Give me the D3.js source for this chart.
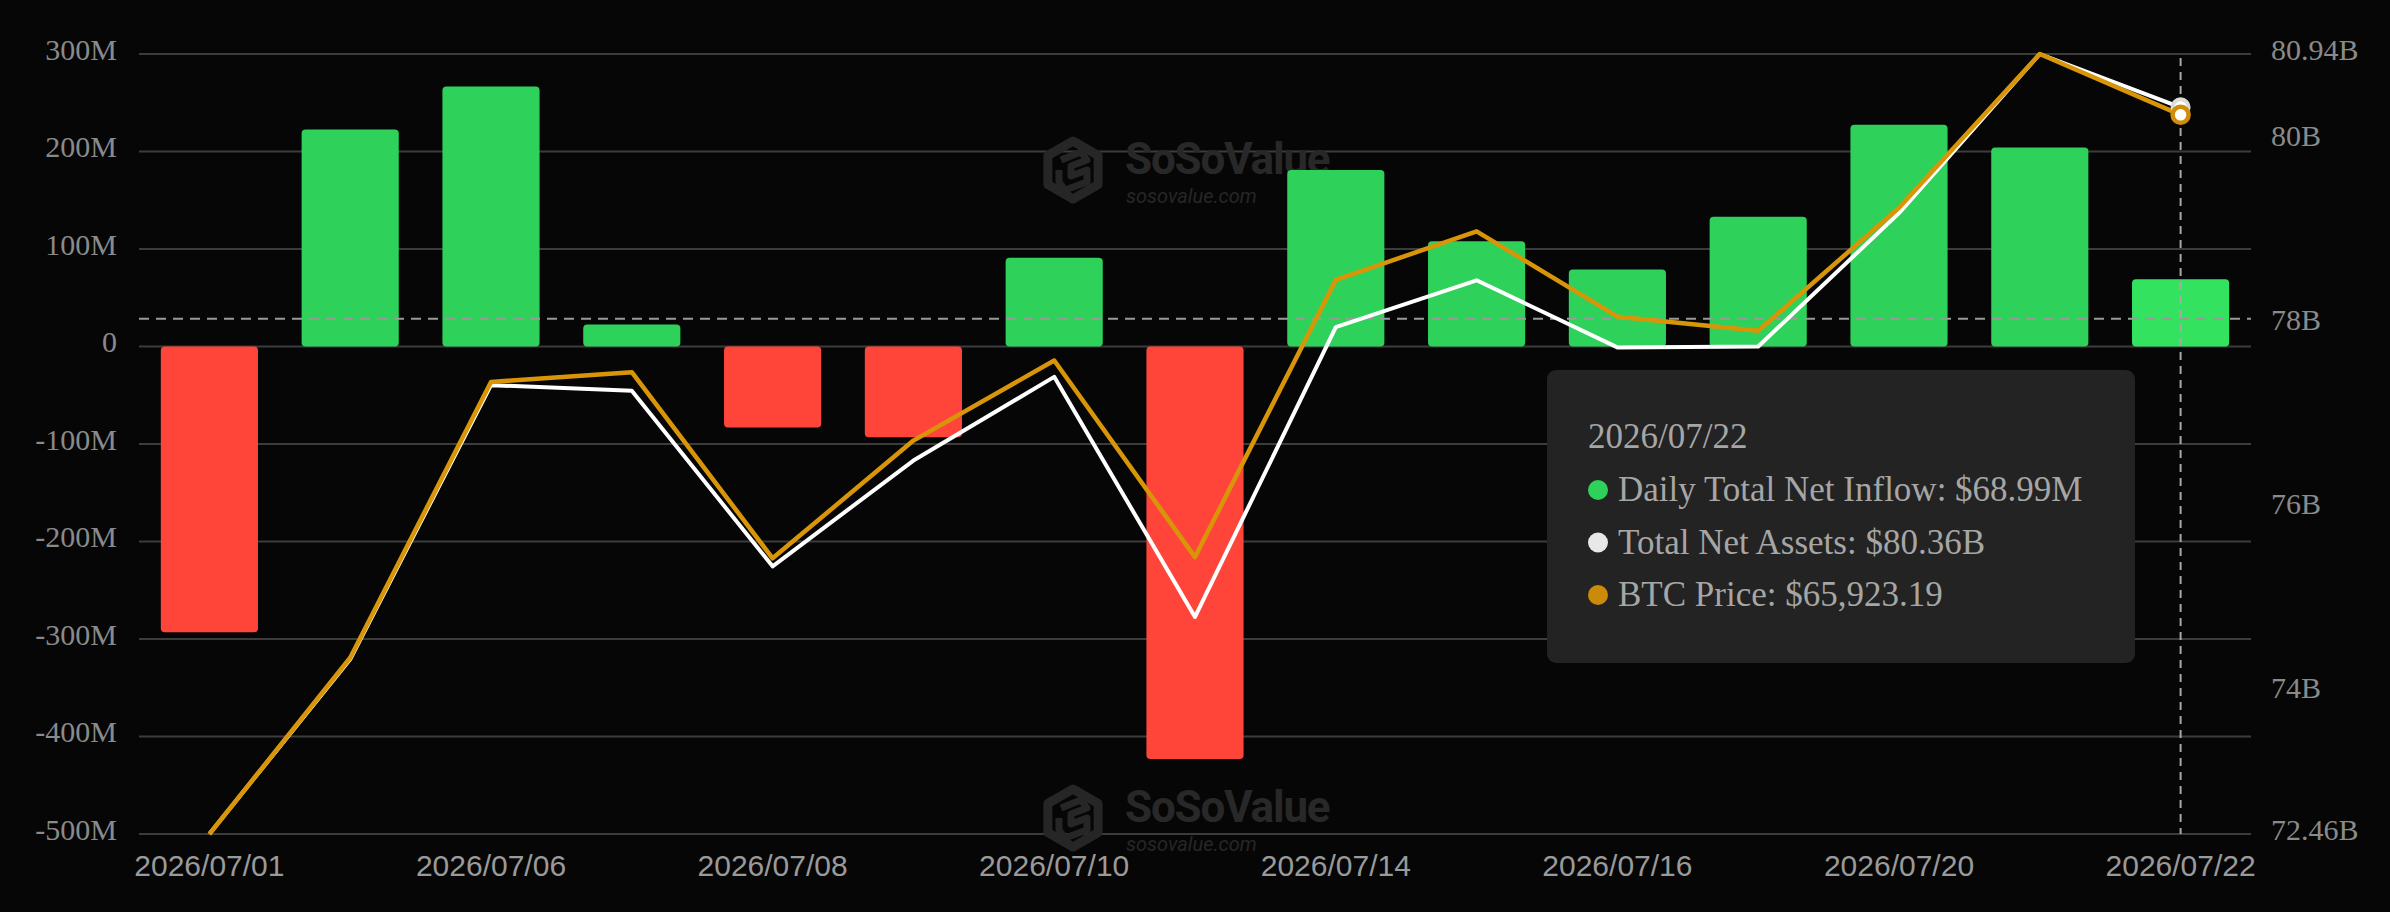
<!DOCTYPE html>
<html><head><meta charset="utf-8">
<script src="https://cdn.jsdelivr.net/npm/d3@7/dist/d3.min.js"></script>
<style>
html,body{margin:0;padding:0;background:#060606;}
svg{display:block;}
</style></head>
<body>
<svg id="chart" width="2390" height="912"></svg>
<script>
// ---- data ----
const dates = ["2026/07/01","2026/07/02","2026/07/06","2026/07/07","2026/07/08","2026/07/09","2026/07/10","2026/07/13","2026/07/14","2026/07/15","2026/07/16","2026/07/17","2026/07/20","2026/07/21","2026/07/22"];
const dailyNetInflow = [-293, 222.6, 266.6, 22.5, -83, -93, 91, -423, 181, 108, 79, 133, 227.5, 204, 68.99]; // $M
const totalNetAssets = [72.46, 74.36, 77.34, 77.28, 75.37, 76.52, 77.43, 74.82, 77.97, 78.48, 77.75, 77.76, 79.21, 80.94, 80.36]; // $B
const btcPrice = [58750, 60508, 63259, 63356, 61500, 62674, 63473, 61512, 64276, 64761, 63910, 63770, 64997, 66530, 65923.19];
const xTickLabels = ["2026/07/01","2026/07/06","2026/07/08","2026/07/10","2026/07/14","2026/07/16","2026/07/20","2026/07/22"];
const leftTicks = [300, 200, 100, 0, -100, -200, -300, -400, -500];
const rightTicks = [74, 76, 78, 80];
const hoverIndex = 14;
const crosshairValue = 28.4; // $M, horizontal pointer line

// ---- layout ----
const svg = d3.select("#chart");
const L = 139, R = 2251, T = 54, B = 834;

const x = d3.scaleBand().domain(dates).range([L, R]).paddingInner(0.31).paddingOuter(0.155);
const yL = d3.scaleLinear().domain([-500, 300]).range([B, T]);
const yR = d3.scaleLinear().domain(d3.extent(totalNetAssets)).range([B, T]);
const yB = d3.scaleLinear().domain(d3.extent(btcPrice)).range([B, T]);
const cx = d => x(d) + x.bandwidth() / 2;

svg.append("rect").attr("width", 2390).attr("height", 912).attr("fill", "#060606");

// gridlines
svg.append("g").selectAll("line").data(leftTicks).join("line")
  .attr("x1", L).attr("x2", R)
  .attr("y1", d => yL(d)).attr("y2", d => yL(d))
  .attr("stroke", "#3c3c3c").attr("stroke-width", 2);

// watermarks
function watermark(g, ox, oy) {
  const w = g.append("g").attr("transform", `translate(${ox},${oy})`);
  const hex = d3.range(6).map(i => {
    const a = Math.PI / 3 * i - Math.PI / 2;
    return [29 * Math.cos(a), 29 * Math.sin(a)];
  });
  w.append("path").attr("d", "M" + hex.join("L") + "Z")
    .attr("fill", "none").attr("stroke", "#262626").attr("stroke-width", 9).attr("stroke-linejoin", "round");
  w.append("path").attr("d", "M-12,-10 L8,-18 L14,-10 L-2,-4 L-2,6 L14,0 L14,12 L-8,20 L-14,12 L-14,0")
    .attr("fill", "none").attr("stroke", "#262626").attr("stroke-width", 7).attr("stroke-linejoin", "round");
  w.append("text").attr("x", 52).attr("y", 4).text("SoSoValue")
    .attr("font-family", "Roboto, 'Liberation Sans', sans-serif").attr("font-weight", 700)
    .attr("font-size", 44).attr("letter-spacing", -1.2).attr("fill", "#282828");
  w.append("text").attr("x", 53).attr("y", 33).text("sosovalue.com")
    .attr("font-family", "Roboto, 'Liberation Sans', sans-serif").attr("font-style", "italic")
    .attr("font-size", 20).attr("fill", "#262626");
}
watermark(svg, 1073, 170);
watermark(svg, 1073, 818);

// bars
svg.append("g").selectAll("rect").data(dailyNetInflow).join("rect")
  .attr("x", (d, i) => x(dates[i]))
  .attr("width", x.bandwidth())
  .attr("y", d => Math.min(yL(d), yL(0)))
  .attr("height", d => Math.abs(yL(d) - yL(0)))
  .attr("rx", 4).attr("ry", 4)
  .attr("fill", (d, i) => d < 0 ? "#ff453a" : (i === hoverIndex ? "#33e35f" : "#2ed15a"));

// crosshair lines
svg.append("line").attr("x1", L).attr("x2", R)
  .attr("y1", yL(crosshairValue)).attr("y2", yL(crosshairValue))
  .attr("stroke", "#9a9a9a").attr("stroke-width", 2).attr("stroke-dasharray", "10,7");
svg.append("line").attr("x1", cx(dates[hoverIndex])).attr("x2", cx(dates[hoverIndex]))
  .attr("y1", T + 4).attr("y2", B)
  .attr("stroke", "#a8a8a8").attr("stroke-width", 2).attr("stroke-dasharray", "8,6");

// lines
const lineA = d3.line().x((d, i) => cx(dates[i])).y(d => yR(d));
const lineB = d3.line().x((d, i) => cx(dates[i])).y(d => yB(d));
svg.append("path").datum(totalNetAssets).attr("d", lineA)
  .attr("fill", "none").attr("stroke", "#ffffff").attr("stroke-width", 4).attr("stroke-linejoin", "round");
svg.append("path").datum(btcPrice).attr("d", lineB)
  .attr("fill", "none").attr("stroke", "#d99508").attr("stroke-width", 4.5).attr("stroke-linejoin", "round");

// hover markers
svg.append("circle").attr("cx", cx(dates[hoverIndex])).attr("cy", yR(totalNetAssets[hoverIndex]))
  .attr("r", 8).attr("fill", "#ffffff").attr("stroke", "#dcdcdc").attr("stroke-width", 4);
svg.append("circle").attr("cx", cx(dates[hoverIndex])).attr("cy", yB(btcPrice[hoverIndex]))
  .attr("r", 8).attr("fill", "#ffffff").attr("stroke", "#d18d08").attr("stroke-width", 4.5);

// left axis labels
svg.append("g").selectAll("text").data(leftTicks).join("text")
  .attr("x", 117).attr("y", d => yL(d) - 1)
  .attr("text-anchor", "end").attr("dominant-baseline", "middle")
  .attr("font-family", "'Liberation Serif', 'Times New Roman', serif").attr("font-size", 30)
  .attr("fill", "#8a8a8a")
  .text(d => d === 0 ? "0" : d + "M");

// right axis labels
const rightLabels = [yR.domain()[1], ...rightTicks, yR.domain()[0]];
svg.append("g").selectAll("text").data(rightLabels).join("text")
  .attr("x", 2271).attr("y", d => yR(d) - 1)
  .attr("text-anchor", "start").attr("dominant-baseline", "middle")
  .attr("font-family", "'Liberation Serif', 'Times New Roman', serif").attr("font-size", 30)
  .attr("fill", "#8a8a8a")
  .text(d => (Number.isInteger(d) ? d : d.toFixed(2)) + "B");

// x axis labels
svg.append("g").selectAll("text").data(xTickLabels).join("text")
  .attr("x", d => cx(d)).attr("y", 868)
  .attr("text-anchor", "middle").attr("dominant-baseline", "middle")
  .attr("font-family", "'Liberation Sans', Arial, sans-serif").attr("font-size", 30)
  .attr("fill", "#9a9a9a")
  .text(d => d);

// tooltip
const tip = svg.append("g").attr("transform", "translate(1547,370)");
tip.append("rect").attr("width", 588).attr("height", 293).attr("rx", 9)
  .attr("fill", "#232323");
const tf = "'Liberation Serif', 'Times New Roman', serif";
tip.append("text").attr("x", 41).attr("y", 78).text(dates[hoverIndex])
  .attr("font-family", tf).attr("font-size", 35).attr("fill", "#a6a6a6");
const fmtComma = d3.format(",.2f");
const rows = [
  {c: "#2ed15a", t: `Daily Total Net Inflow: $${dailyNetInflow[hoverIndex].toFixed(2)}M`},
  {c: "#e8e8e8", t: `Total Net Assets: $${totalNetAssets[hoverIndex].toFixed(2)}B`},
  {c: "#cc8a0a", t: `BTC Price: $${fmtComma(btcPrice[hoverIndex])}`}
];
rows.forEach((r, i) => {
  const by = 131 + i * 52.5;
  tip.append("circle").attr("cx", 51).attr("cy", by - 11).attr("r", 10).attr("fill", r.c);
  tip.append("text").attr("x", 71).attr("y", by).text(r.t)
    .attr("font-family", tf).attr("font-size", 35).attr("fill", "#a6a6a6");
});
</script>
</body></html>
